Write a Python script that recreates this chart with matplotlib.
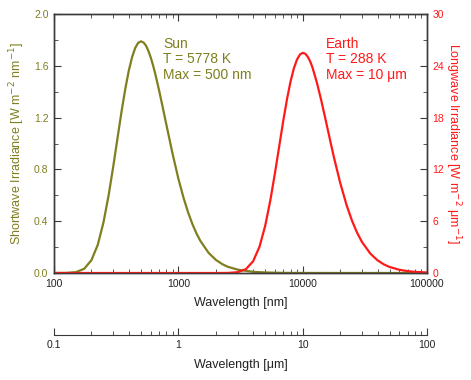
import matplotlib
matplotlib.use("Agg")
import matplotlib.pyplot as plt
from matplotlib.ticker import FixedLocator, LogLocator, NullFormatter

plt.rcParams['font.family'] = ['Liberation Sans', 'DejaVu Sans']

# values
sun_wl = [100, 125, 150, 175, 200, 225, 250, 275, 300, 325, 350, 375, 400, 425,
          450, 475, 500, 525, 550, 575, 600, 625, 650, 700, 750, 800, 900, 1000,
          1100, 1200, 1300, 1400, 1500, 1750, 2000, 2250, 2500, 3000, 4000, 5000,
          7000, 10000, 100000]
sun_irr = [0.0, 0.0006, 0.0066, 0.0325, 0.099, 0.218, 0.391, 0.600, 0.826, 1.049,
           1.252, 1.425, 1.565, 1.668, 1.738, 1.777, 1.789, 1.780, 1.755, 1.714,
           1.664, 1.606, 1.544, 1.411, 1.277, 1.149, 0.918, 0.730, 0.582, 0.466,
           0.376, 0.305, 0.250, 0.156, 0.102, 0.069, 0.048, 0.026, 0.009, 0.004,
           0.001, 0.0003, 0.0]

earth_wl = [100, 1000, 2000, 2500, 3000, 3500, 4000, 4500, 5000, 5500, 6000, 6500,
            7000, 7500, 8000, 8500, 9000, 9500, 10000, 10500, 11000, 11500, 12000,
            13000, 14000, 15000, 16000, 17000, 18000, 20000, 22500, 25000, 27500,
            30000, 35000, 40000, 45000, 50000, 60000, 70000, 80000, 100000]
earth_irr = [0.0, 0.0, 0.0, 0.008, 0.090, 0.452, 1.376, 3.063, 5.489, 8.45, 11.66,
             14.82, 17.73, 20.22, 22.22, 23.71, 24.72, 25.30, 25.5, 25.40, 25.03,
             24.50, 23.79, 22.07, 20.20, 18.30, 16.46, 14.74, 13.17, 10.49, 7.91,
             6.01, 4.62, 3.59, 2.25, 1.47, 0.997, 0.698, 0.37, 0.214, 0.132, 0.058]

olive = '#7f7f1f'
red = '#ff1a1a'
spine_c = '#3a3a3a'
txt_c = '#222222'

fig = plt.figure(figsize=(4.71, 3.80), dpi=100)
ax = fig.add_axes([54/471, 1-273/380, 373/471, 259/380])
ax2 = ax.twinx()

ax.plot(sun_wl, sun_irr, color=olive, lw=1.6)
ax2.plot(earth_wl, earth_irr, color=red, lw=1.6)

ax.set_xscale('log')
ax.set_xlim(100, 100000)
ax.set_ylim(0, 2.0)
ax2.set_ylim(0, 30)

ax.set_yticks([0.0, 0.4, 0.8, 1.2, 1.6, 2.0])
ax.set_yticklabels(['0.0', '0.4', '0.8', '1.2', '1.6', '2.0'])
ax.yaxis.set_minor_locator(FixedLocator([0.2, 0.6, 1.0, 1.4, 1.8]))
ax2.set_yticks([0, 6, 12, 18, 24, 30])
ax2.yaxis.set_minor_locator(FixedLocator([3, 9, 15, 21, 27]))

ax.set_xticks([100, 1000, 10000, 100000])
ax.set_xticklabels(['100', '1000', '10000', '100000'])
ax.xaxis.set_minor_locator(LogLocator(base=10, subs=range(2, 10)))
ax.xaxis.set_minor_formatter(NullFormatter())

for a in (ax, ax2):
    for s in a.spines.values():
        s.set_color(spine_c)
        s.set_linewidth(1.0)

ax.tick_params(axis='x', which='both', direction='in', top=True, colors=spine_c,
               labelcolor=txt_c, labelsize=7.5, pad=4)
ax.tick_params(axis='x', which='major', length=5)
ax.tick_params(axis='x', which='minor', length=3)
ax.tick_params(axis='y', which='both', direction='in', colors=spine_c,
               labelcolor=olive, labelsize=7.5, pad=4)
ax.tick_params(axis='y', which='major', length=5)
ax.tick_params(axis='y', which='minor', length=3)
ax2.tick_params(axis='y', which='both', direction='in', colors=spine_c,
                labelcolor=red, labelsize=7.5, pad=4)
ax2.tick_params(axis='y', which='major', length=5)
ax2.tick_params(axis='y', which='minor', length=3)

ax.set_xlabel('Wavelength [nm]', fontsize=9, color=txt_c, labelpad=6)
ax.set_ylabel('Shortwave Irradiance [W m$^{-2}$ nm$^{-1}$]', fontsize=9,
              color=olive, labelpad=5)
ax2.set_ylabel('Longwave Irradiance [W m$^{-2}$ \u03bcm$^{-1}$]', fontsize=9,
               color=red, rotation=270, labelpad=13)

# second wavelength axis in micrometres
sec = ax.secondary_xaxis(-0.239, functions=(lambda x: x / 1000.0, lambda x: x * 1000.0))
sec.set_xticks([0.1, 1, 10, 100])
sec.set_xticklabels(['0.1', '1', '10', '100'])
sec.xaxis.set_minor_locator(LogLocator(base=10, subs=range(2, 10)))
sec.xaxis.set_minor_formatter(NullFormatter())
sec.spines['bottom'].set_color(spine_c)
sec.tick_params(axis='x', which='both', direction='in', colors=spine_c,
                labelcolor=txt_c, labelsize=7.5, pad=4)
sec.tick_params(axis='x', which='major', length=5)
sec.tick_params(axis='x', which='minor', length=3)
sec.set_xlabel('Wavelength [\u03bcm]', fontsize=9, color=txt_c, labelpad=6)

ax.text(0.292, 0.91, 'Sun\nT = 5778 K\nMax = 500 nm', transform=ax.transAxes,
        color=olive, fontsize=10, va='top', ha='left', linespacing=1.1)
ax.text(0.729, 0.91, 'Earth\nT = 288 K\nMax = 10 \u03bcm', transform=ax.transAxes,
        color=red, fontsize=10, va='top', ha='left', linespacing=1.1)

fig.savefig('out.png', dpi=100)
